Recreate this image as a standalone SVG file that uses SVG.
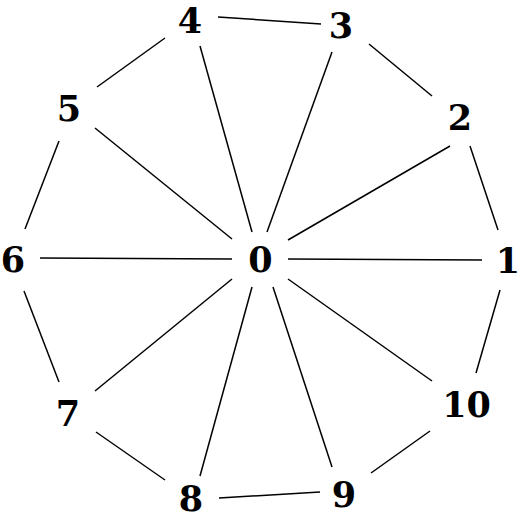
<svg xmlns="http://www.w3.org/2000/svg" width="522" height="518" viewBox="0 0 522 518">
<style>
.lbl{font-family:"DejaVu Serif","Liberation Serif",serif;font-weight:bold;font-size:35px;text-anchor:middle;fill:#000}
.e{stroke:#000;stroke-width:1.5;fill:none}
</style>
<rect width="522" height="518" fill="#fff"/>
<g id="edges">
<line class="e" x1="218" y1="17" x2="321" y2="24"/>
<line class="e" x1="369" y1="44" x2="432" y2="96"/>
<line class="e" x1="470" y1="146" x2="498" y2="230"/>
<line class="e" x1="500" y1="290" x2="476" y2="373"/>
<line class="e" x1="430" y1="431" x2="371" y2="473"/>
<line class="e" x1="320" y1="492" x2="219" y2="498"/>
<line class="e" x1="165" y1="480" x2="96" y2="432"/>
<line class="e" x1="59" y1="382" x2="24" y2="291"/>
<line class="e" x1="25" y1="229" x2="59" y2="141"/>
<line class="e" x1="97" y1="87" x2="165" y2="38"/>
<line class="e" x1="288" y1="259" x2="482" y2="260"/>
<line class="e" x1="288" y1="240" x2="450" y2="146"/>
<line class="e" x1="267" y1="232" x2="332" y2="52"/>
<line class="e" x1="252" y1="232" x2="200" y2="46"/>
<line class="e" x1="95" y1="128" x2="232" y2="239"/>
<line class="e" x1="40" y1="258" x2="232" y2="259"/>
<line class="e" x1="95" y1="391" x2="232" y2="279"/>
<line class="e" x1="200" y1="476" x2="252" y2="287"/>
<line class="e" x1="332" y1="467" x2="273" y2="287"/>
<line class="e" x1="432" y1="381" x2="288" y2="279"/>
</g>
<g id="n0"><text class="lbl" x="260.5" y="272">0</text></g>
<g id="n1"><text class="lbl" x="508" y="273">1</text></g>
<g id="n2"><text class="lbl" x="460" y="130">2</text></g>
<g id="n3"><text class="lbl" x="341" y="38">3</text></g>
<g id="n4"><text class="lbl" x="190" y="33">4</text></g>
<g id="n5"><text class="lbl" x="69" y="121">5</text></g>
<g id="n6"><text class="lbl" x="13" y="272">6</text></g>
<g id="n7"><text class="lbl" x="68" y="426">7</text></g>
<g id="n8"><text class="lbl" x="191" y="511">8</text></g>
<g id="n9"><text class="lbl" x="344" y="507">9</text></g>
<g id="n10"><text class="lbl" x="466.5" y="417">10</text></g>
</svg>
